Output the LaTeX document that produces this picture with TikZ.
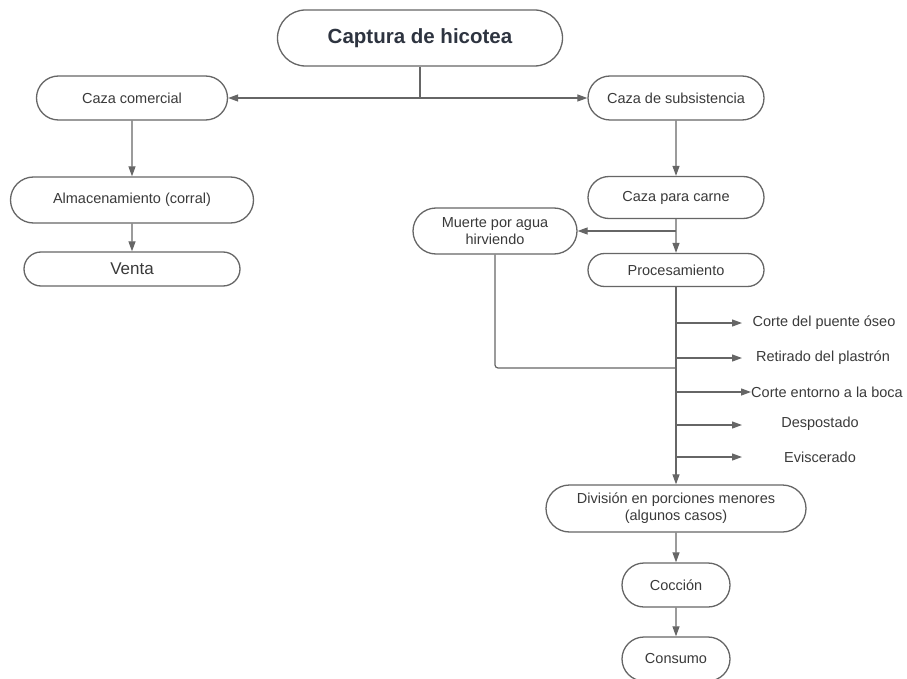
\documentclass[tikz,border=0pt]{standalone}
\usepackage{fontspec}
\setmainfont{Liberation Sans}
\usetikzlibrary{arrows.meta,shapes.misc}
\definecolor{lncol}{HTML}{666666}
\definecolor{txcol}{HTML}{3A3A3A}
\definecolor{ttcol}{HTML}{2E3440}
\begin{document}
\begin{tikzpicture}[x=1pt,y=-1pt,
  box/.style={rounded rectangle, draw=lncol, line width=1.3pt, fill=white, text=txcol,
    font=\fontsize{14.5}{17}\selectfont, inner sep=0pt, align=center},
  conn/.style={draw=lncol, line width=1.2pt},
  arr/.style={conn, -{Triangle[length=10pt,width=7pt]}},
  lbl/.style={text=txcol, font=\fontsize{14.5}{17}\selectfont, inner sep=0pt}
]
\useasboundingbox (0,0) rectangle (907,679);

\node[box, minimum width=285, minimum height=56, text=ttcol,
  font=\bfseries\fontsize{20.5}{24}\selectfont] (cap) at (420,38) {Captura de hicotea};
\node[box, minimum width=191, minimum height=44] (cc) at (132,98) {Caza comercial};
\node[box, minimum width=243, minimum height=46] (alm) at (132,200) {Almacenamiento (corral)};
\node[box, minimum width=216, minimum height=34, font=\fontsize{17}{20}\selectfont] (ven) at (132,269) {Venta};
\node[box, minimum width=176, minimum height=44] (cs) at (676,98) {Caza de subsistencia};
\node[box, minimum width=176, minimum height=42] (cpc) at (676,197.5) {Caza para carne};
\node[box, minimum width=164, minimum height=46] (mu) at (495,231) {Muerte por agua\\hirviendo};
\node[box, minimum width=176, minimum height=33] (pro) at (676,270) {Procesamiento};
\node[box, minimum width=260, minimum height=47] (div) at (676,508.5) {División en porciones menores\\(algunos casos)};
\node[box, minimum width=108, minimum height=44] (coc) at (676,585) {Cocción};
\node[box, minimum width=108, minimum height=44] (con) at (676,659) {Consumo};

\node[lbl] (t1) at (824,323) {Corte del puente óseo};
\node[lbl] (t2) at (823,358) {Retirado del plastrón};
\node[lbl] (t3) at (827,392) {Corte entorno a la boca};
\node[lbl] (t4) at (820,424) {Despostado};
\node[lbl] (t5) at (820,457) {Eviscerado};

\coordinate (j) at (420,98);
\coordinate (m) at (676,368);
\coordinate (e) at (742,0);
\coordinate (b1) at (676,323);
\coordinate (b2) at (676,358);
\coordinate (b3) at (676,392);
\coordinate (b4) at (676,425);
\coordinate (b5) at (676,457);

\draw[conn] (cap.south) -- (j);
\draw[arr] (j) -- (cc.east);
\draw[arr] (j) -- (cs.west);
\draw[arr] (cc) -- (alm);
\draw[arr] (alm) -- (ven);
\draw[arr] (cs) -- (cpc);
\draw[arr] (cpc) -- (pro);
\draw[arr] (cpc.south |- mu.east) -- (mu.east);
\draw[arr] (pro.south) -- (div.north);
\draw[conn, rounded corners=3pt] (mu.south) |- (m);
\draw[arr] (b1) -- (b1 -| e);
\draw[arr] (b2) -- (b2 -| e);
\draw[arr] (b3) -- (t3.west);
\draw[arr] (b4) -- (b4 -| e);
\draw[arr] (b5) -- (b5 -| e);
\draw[arr] (div) -- (coc);
\draw[arr] (coc) -- (con);
\end{tikzpicture}
\end{document}
